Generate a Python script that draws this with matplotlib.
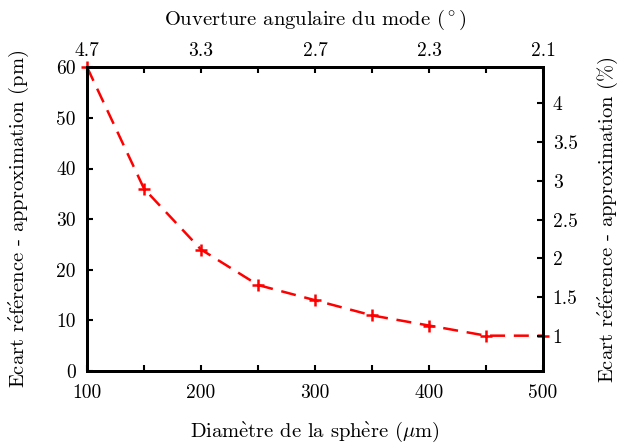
import numpy as np
import matplotlib
matplotlib.use("Agg")
import matplotlib.pyplot as plt

# ── Data ─────────────────────────────────────────────────────────────────────
diametre = [100, 150, 200, 250, 300, 350, 400, 450, 500]   # µm
ecart_pm = [60, 36, 24, 17, 14, 11, 9, 7, 7]                # pm

top_ticks = [100, 200, 300, 400, 500]
top_labels = ["4.7", "3.3", "2.7", "2.3", "2.1"]
right_ticks = [1, 1.5, 2, 2.5, 3, 3.5, 4]
right_labels = ["1", "1.5", "2", "2.5", "3", "3.5", "4"]

plt.rcParams["font.family"] = ["cmr10", "DejaVu Serif"]
plt.rcParams["mathtext.fontset"] = "cm"
plt.rcParams["axes.formatter.use_mathtext"] = True
FS = 14
LFS = 14.8

# accents drawn through mathtext (cmr10 has no é / è glyphs)
E_AIGU = r"$\mathrm{\acute{e}}$"
E_GRAVE = r"$\mathrm{\grave{e}}$"
ylab_left = "Ecart r" + E_AIGU + "f" + E_AIGU + "rence - approximation (pm)"
ylab_right = "Ecart r" + E_AIGU + "f" + E_AIGU + "rence - approximation (%)"
xlab = "Diam" + E_GRAVE + "tre de la sph" + E_GRAVE + r"re ($\mathrm{\mu}$m)"
toplab = r"Ouverture angulaire du mode ($^\circ$)"

fig = plt.figure(figsize=(6.22, 4.45), dpi=100)
ax = fig.add_axes([0.140, 0.166, 0.733, 0.683])

ax.plot(diametre, ecart_pm, color="red", lw=1.8, dashes=(6, 3.5),
        marker="+", ms=9, mew=1.8, clip_on=False, zorder=5)

ax.set_xlim(100, 500)
ax.set_ylim(0, 60)
ax.set_xticks(np.arange(100, 501, 50))
ax.set_xticklabels(["100", "", "200", "", "300", "", "400", "", "500"])
ax.set_yticks(np.arange(0, 61, 10))
ax.set_yticklabels([str(v) for v in range(0, 61, 10)])
ax.tick_params(direction="in", length=4, width=1.5, labelsize=FS)
ax.tick_params(axis="x", pad=9)
ax.tick_params(axis="y", pad=8)
for s in ax.spines.values():
    s.set_linewidth(2)

ax.set_xlabel(xlab, fontsize=LFS)
ax.xaxis.set_label_coords(0.5, -0.16)
ax.set_ylabel(ylab_left, fontsize=LFS)
ax.yaxis.set_label_coords(-0.124, 0.5)

# ── Top axis ─────────────────────────────────────────────────────────────────
top = ax.twiny()
top.set_xlim(ax.get_xlim())
top.set_xticks(np.arange(100, 501, 50))
top.set_xticklabels([top_labels[top_ticks.index(t)] if t in top_ticks else ""
                     for t in range(100, 501, 50)])
top.tick_params(direction="in", length=4, width=1.5, labelsize=FS, pad=5)
top.set_xlabel(toplab, fontsize=LFS)
top.xaxis.set_label_coords(0.5, 1.138)

# ── Right axis ───────────────────────────────────────────────────────────────
right = ax.twinx()
right.set_ylim(0.55, 4.46)
right.set_yticks(right_ticks)
right.set_yticklabels(right_labels)
right.tick_params(direction="in", length=4, width=1.5, labelsize=FS, pad=7)
right.set_ylabel(ylab_right, fontsize=LFS)
right.yaxis.set_label_coords(1.116, 0.5)

for a in (top, right):
    for s in a.spines.values():
        s.set_linewidth(2)

fig.savefig("out.png", dpi=100)
